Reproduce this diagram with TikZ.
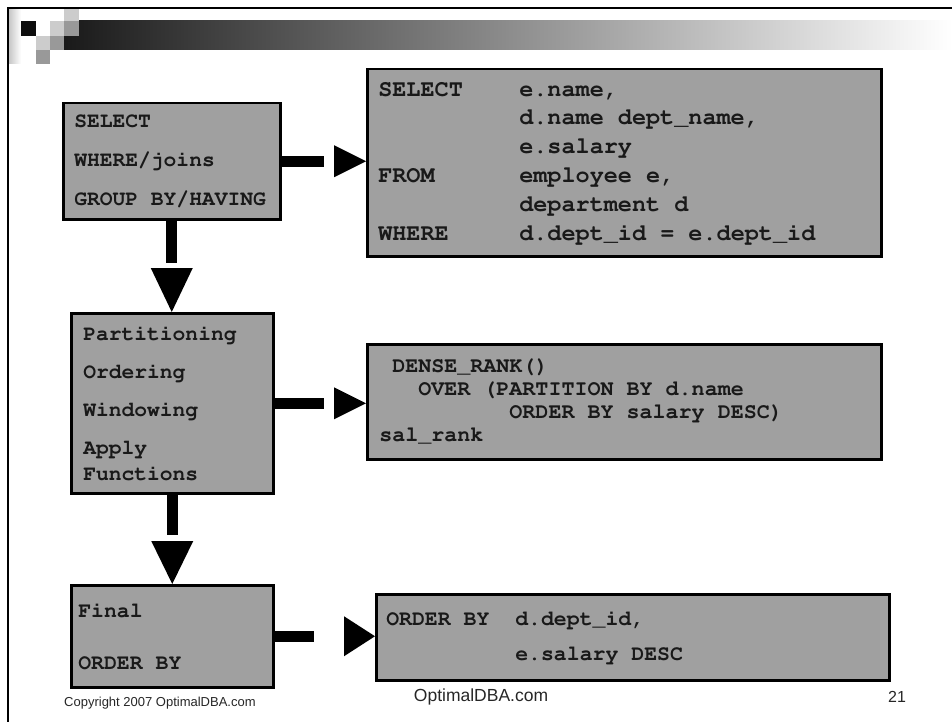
\documentclass[tikz,border=0pt]{standalone}
\usepackage[T1]{fontenc}
\usepackage{fontspec}
\setmainfont{Liberation Sans}
\newcommand\codefont[2]{\fontencoding{T1}\fontfamily{pcr}\fontseries{b}\fontsize{#1}{#2}\selectfont}
\newcommand\gap[1]{\hspace*{#1\dimexpr0.6em\relax}}
\usepackage{tikz}
\usetikzlibrary{decorations.markings}
\definecolor{boxgray}{HTML}{A0A0A0}
\definecolor{tilelight}{HTML}{CCCCCC}
\definecolor{tiledark}{HTML}{999999}
\tikzset{
  sqlbox/.style={draw=black, line width=2.5pt, fill=boxgray, anchor=north west,
    align=left, inner xsep=0pt, inner ysep=0pt, text=black!90},
  flow/.style n args={3}{line width=11pt, shorten >=#3,
    postaction={decorate, decoration={markings,
      mark=at position 1 with {\fill (0pt,0pt) -- (-#1,#2/2) -- (-#1,-#2/2) -- cycle;}}}},
  foot/.style={inner sep=0pt, text=black!85}
}

\begin{document}
\begin{tikzpicture}[x=1pt,y=-1pt]
        \useasboundingbox (0,0) rectangle (952,722);
        \shade [left color=black!90, right color=white] (64,21) rectangle (952,50);
        \shade [left color=black!22, right color=white] (9,9) rectangle (21,64);
        \fill [black!95] (21,21) rectangle (36,36);
        \fill [tilelight] (64,9) rectangle (79,21);
        \fill [tilelight] (50,21) rectangle (64,36);
        \fill [tiledark] (64,21) rectangle (79,36);
        \fill [tilelight] (36,36) rectangle (50,50);
        \fill [tiledark] (50,36) rectangle (64,50);
        \fill [tiledark] (36,50) rectangle (50,64);
        \draw [line width=2.5pt] (952,8) -- (8,8) -- (8,722);

        \node [sqlbox, minimum width=217pt, minimum height=116pt, text width=195pt,
          font=\codefont{21.3}{39}] (sel) at (62,102)
          {SELECT\\WHERE/joins\\GROUP\gap{1}BY/HAVING};
        \node [sqlbox, minimum width=514pt, minimum height=187pt, text width=492pt,
          font=\codefont{23.5}{28.8}] (qry) at (366,68)
          {SELECT\gap{4}e.name,\\
           \gap{10}d.name\gap{1}dept\_name,\\
           \gap{10}e.salary\\
           FROM\gap{6}employee\gap{1}e,\\
           \gap{10}department\gap{1}d\\
           WHERE\gap{5}d.dept\_id\gap{1}=\gap{1}e.dept\_id};
        \node [sqlbox, minimum width=202pt, minimum height=180pt, text width=178pt,
          font=\codefont{21.3}{26}] (part) at (70,312)
          {Partitioning\\[12pt]Ordering\\[12pt]Windowing\\[12pt]Apply\\Functions};
        \node [sqlbox, minimum width=514pt, minimum height=115pt, text width=490pt,
          font=\codefont{21.7}{23}] (rank) at (366,343)
          {\gap{1}DENSE\_RANK()\\
           \gap{3}OVER\gap{1}(PARTITION\gap{1}BY\gap{1}d.name\\
           \gap{10}ORDER\gap{1}BY\gap{1}salary\gap{1}DESC)\\
           sal\_rank};
        \node [sqlbox, minimum width=202pt, minimum height=102pt, text width=188pt,
          font=\codefont{21.5}{52}] (fin) at (70,584)
          {Final\\ORDER\gap{1}BY};
        \node [sqlbox, minimum width=513pt, minimum height=86pt, text width=493pt,
          font=\codefont{21.5}{35}] (ord) at (375,593)
          {ORDER\gap{1}BY\gap{2}d.dept\_id,\\
           \gap{10}e.salary\gap{1}DESC};

        \draw [flow={32pt}{32pt}{42pt}] (sel) -- (sel -| qry.west);
        \draw [flow={44pt}{42pt}{49pt}] (sel) -- (sel |- part.north);
        \draw [flow={32pt}{32pt}{42pt}] (part) -- (part -| rank.west);
        \draw [flow={43pt}{42pt}{49pt}] (part) -- (part |- fin.north);
        \draw [flow={31pt}{40pt}{61pt}] (fin) -- (fin -| ord.west);

        \node [foot, anchor=west, font=\fontsize{13}{15}\selectfont] (copy) at (64,703)
          {Copyright 2007 OptimalDBA.com};
        \node [foot, font=\fontsize{17.5}{20}\selectfont] (site) at (481,697) {OptimalDBA.com};
        \node [foot, font=\fontsize{16}{18}\selectfont] (page) at (897,697) {21};
\end{tikzpicture}
\end{document}
